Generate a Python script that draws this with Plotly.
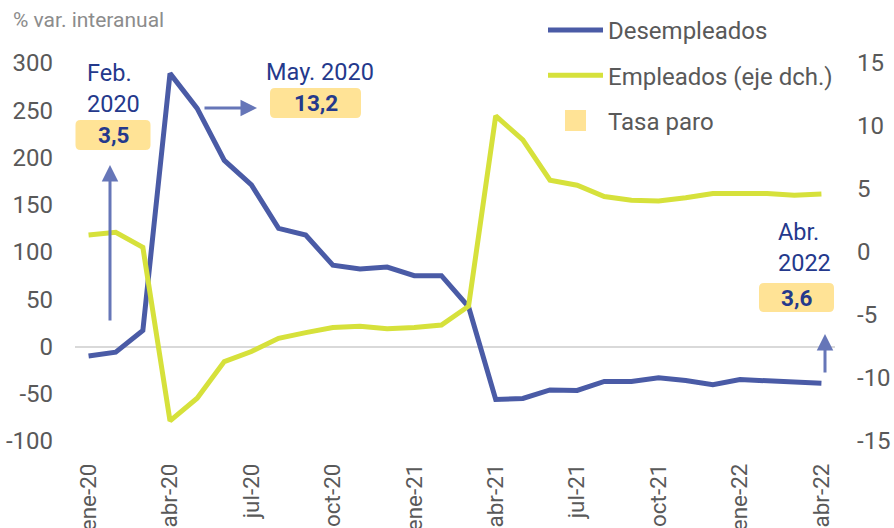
import plotly.graph_objects as go

# ---- data ----
months = ["ene-20", "feb-20", "mar-20", "abr-20", "may-20", "jun-20", "jul-20", "ago-20",
          "sep-20", "oct-20", "nov-20", "dic-20", "ene-21", "feb-21", "mar-21", "abr-21",
          "may-21", "jun-21", "jul-21", "ago-21", "sep-21", "oct-21", "nov-21", "dic-21",
          "ene-22", "feb-22", "mar-22", "abr-22"]
desempleados = [-10, -6, 17, 289, 252, 197, 171, 125, 118, 86, 82, 84, 75, 75, 42, -56,
                -55, -46, -46.5, -37, -37, -33, -36, -40.5, -35, -36, -38, -39]
empleados = [1.35, 1.56, 0.37, -13.4, -11.6, -8.7, -7.9, -6.85, -6.4, -6.0, -5.9, -6.1,
             -6.0, -5.8, -4.3, 10.8, 8.9, 5.7, 5.3, 4.4, 4.1, 4.05, 4.3, 4.65, 4.65, 4.65,
             4.5, 4.6]
tick_months = months[::3]
left_ticks = [-100, -50, 0, 50, 100, 150, 200, 250, 300]
left_ticktext = ["-100", "-50", "0", "50", "100", "150", "200", "250", "300"]
right_ticks = [-15, -10, -5, 0, 5, 10, 15]
right_ticktext = ["-15", "-10", "-5", "0", "5", "10", "15"]
tasa_labels = ["Feb.<br>2020", "May. 2020", "Abr.<br>2022"]
tasa_paro = ["3,5", "13,2", "3,6"]

BLUE = "#4A5BA6"
GREEN = "#D6E13B"
BOX = "#FFE396"
TXT = "#24398C"
ARROW = "#6676B8"
GREY = "#595959"
FONT = "Roboto"

W, H = 894, 528
L, R, T, B = 75, 59, 63, 87
PW, PH = W - L - R, H - T - B


def px(x):
    return (x - L) / PW


def py(y):
    return (H - B - y) / PH


def rounded_box(cx, cy, w, h, r=5):
    x0, x1 = px(cx - w / 2), px(cx + w / 2)
    y0, y1 = py(cy + h / 2), py(cy - h / 2)
    rx, ry = r / PW, r / PH
    return (f"M{x0 + rx},{y0} L{x1 - rx},{y0} Q{x1},{y0} {x1},{y0 + ry} "
            f"L{x1},{y1 - ry} Q{x1},{y1} {x1 - rx},{y1} L{x0 + rx},{y1} "
            f"Q{x0},{y1} {x0},{y1 - ry} L{x0},{y0 + ry} Q{x0},{y0} {x0 + rx},{y0} Z")


fig = go.Figure()
fig.add_trace(go.Scatter(x=months, y=desempleados, name="Desempleados", mode="lines",
                         line=dict(color=BLUE, width=5), legendgroup="a"))
fig.add_trace(go.Scatter(x=months, y=empleados, name="Empleados (eje dch.)", mode="lines",
                         line=dict(color=GREEN, width=5), yaxis="y2", legendgroup="b"))
fig.add_trace(go.Scatter(x=[None], y=[None], name="Tasa paro", mode="markers",
                         marker=dict(symbol="square", size=16, color=BOX,
                                     line=dict(color=BOX, width=5)),
                         legendgroup="c"))

annotations = [
    dict(text="% var. interanual", x=px(11), y=py(20), xref="paper", yref="paper",
         xanchor="left", yanchor="middle", showarrow=False,
         font=dict(family=FONT, size=21, color="#8C8C8C")),
]
# label texts
for lab, (x, y) in zip(tasa_labels, [(85, 88), (264, 72), (776, 247.5)]):
    annotations.append(dict(text=lab, x=px(x), y=py(y), xref="paper", yref="paper",
                            xanchor="left", yanchor="middle", align="left", showarrow=False,
                            font=dict(family=FONT, size=23.5, color=TXT)))
# boxes
shapes = []
for val, (x, y, w, h) in zip(tasa_paro, [(113, 135, 75, 30), (315.5, 103, 91, 30),
                                          (796.5, 297.5, 75, 29)]):
    shapes.append(dict(type="path", path=rounded_box(x, y, w, h), xref="paper",
                       yref="paper", fillcolor=BOX, line=dict(width=0), layer="above"))
    annotations.append(dict(text="<b>" + val + "</b>", x=px(x), y=py(y), xref="paper",
                            yref="paper", xanchor="center", yanchor="middle",
                            showarrow=False,
                            font=dict(family=FONT, size=22.5, color=TXT)))
# arrows
for (x, y, ax, ay) in [(110, 165, 0, 157), (257, 108, -54, 0), (825, 334, 0, 40)]:
    annotations.append(dict(text="", x=px(x), y=py(y), xref="paper", yref="paper",
                            ax=ax, ay=ay, showarrow=True, arrowhead=2, arrowsize=1.1,
                            arrowwidth=3, arrowcolor=ARROW, standoff=0))

fig.update_layout(
    width=W, height=H,
    margin=dict(l=L, r=R, t=T, b=B, autoexpand=False),
    paper_bgcolor="white", plot_bgcolor="white",
    font=dict(family=FONT, size=24, color=GREY),
    xaxis=dict(type="category", range=[-0.5, len(months) - 0.5], tickmode="array",
               tickvals=tick_months, ticktext=tick_months, tickangle=-90,
               showgrid=False, showline=False, ticks="", ticklabelstandoff=17,
               automargin=False, tickfont=dict(size=22.5, color=GREY)),
    yaxis=dict(range=[-100, 300], tickmode="array", tickvals=left_ticks,
               ticktext=left_ticktext, showgrid=False, zeroline=True,
               zerolinecolor="#D9D9D9", zerolinewidth=1.5, showline=False, ticks="",
               ticklabelstandoff=21, automargin=False, tickfont=dict(size=24, color=GREY)),
    yaxis2=dict(range=[-15, 15], tickmode="array", tickvals=right_ticks,
                ticktext=right_ticktext, overlaying="y", side="right",
                showgrid=False, zeroline=False, showline=False, ticks="",
                ticklabelstandoff=21, automargin=False, tickfont=dict(size=24, color=GREY)),
    legend=dict(x=543 / W, y=1 - 8 / H, xref="container", yref="container",
                xanchor="left", yanchor="top",
                bgcolor="rgba(0,0,0,0)", font=dict(family=FONT, size=24, color=GREY),
                tracegroupgap=11, itemwidth=55, itemsizing="trace"),
    showlegend=True,
    annotations=annotations,
    shapes=shapes,
)

fig.write_html("out.html", config={"displayModeBar": False},
               post_script="document.body.style.margin='0';document.body.style.overflow='hidden';")
